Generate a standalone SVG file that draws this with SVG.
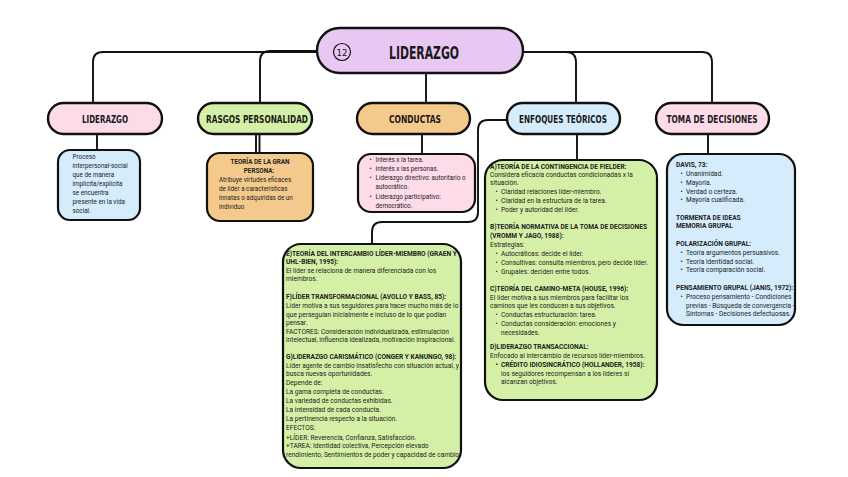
<svg xmlns="http://www.w3.org/2000/svg" width="848" height="477" viewBox="0 0 848 477">
<defs>
<style>
.pill{stroke:#111;stroke-width:2.4}
.box{stroke:#111;stroke-width:2.2}
.con{fill:none;stroke:#111;stroke-width:1.9}
.lbl{font-family:"DejaVu Sans Condensed","DejaVu Sans",sans-serif;font-weight:700;font-size:10.5px;fill:#1a1a1a;text-anchor:middle}
.t{font-family:Roboto,"Liberation Sans",sans-serif;font-size:6.6px;fill:#222}
.b{font-weight:700}
.s{font-size:6.3px}
.c{text-anchor:middle}
.lav{fill:#e9c7f3}.pink{fill:#fddbe8}.green{fill:#d4f0a6}.orange{fill:#f4c98c}.blue{fill:#d4ecfb}
</style>
<clipPath id="clipEG"><rect x="283" y="244" width="178" height="224" rx="18"/></clipPath>
</defs>
<rect width="848" height="477" fill="#ffffff"/>

<g id="connectors">
<path class="con" d="M317,52 H103 Q93,52 93,62 V103"/>
<path class="con" d="M317,51 H270 Q260,51 260,61 V103"/>
<path class="con" d="M426,73 V103"/>
<path class="con" d="M523,52 H566 Q576,52 576,62 V103"/>
<path class="con" d="M523,52 H702 Q712,52 712,62 V103"/>
<path class="con" d="M97,134 V150"/>
<path class="con" d="M256,134 V153 M259.5,134 V153"/>
<path class="con" d="M422,134 V154"/>
<path class="con" d="M577,134 V160"/>
<path class="con" d="M708,134 V154"/>
<path class="con" d="M507,120 H488 Q478,120 478,130 V212 Q478,222 468,222 H382 Q372,222 372,232 V244"/>
</g>

<g id="title">
<rect class="pill lav" x="317" y="28" width="206" height="45" rx="22.5"/>
<circle cx="342" cy="52" r="8.5" fill="none" stroke="#111" stroke-width="1.2"/>
<text x="342" y="55.5" font-family="DejaVu Sans Condensed,DejaVu Sans,sans-serif" font-size="9.5" text-anchor="middle" fill="#111">12</text>
<text x="424" y="58.5" font-family="DejaVu Sans Condensed,DejaVu Sans,sans-serif" font-weight="700" font-size="18" text-anchor="middle" fill="#1a1a1a" textLength="70" lengthAdjust="spacingAndGlyphs">LIDERAZGO</text>
</g>

<g id="n-liderazgo">
<rect class="pill pink" x="48" y="103" width="114" height="31" rx="15.5"/>
<text class="lbl" x="105" y="123" textLength="46" lengthAdjust="spacingAndGlyphs">LIDERAZGO</text>
</g>
<g id="n-rasgos">
<rect class="pill green" x="198" y="103" width="114" height="31" rx="15.5"/>
<text class="lbl" x="257" y="123" textLength="102" lengthAdjust="spacingAndGlyphs">RASGOS PERSONALIDAD</text>
</g>
<g id="n-conductas">
<rect class="pill orange" x="357" y="103" width="113" height="31" rx="15.5"/>
<text class="lbl" x="415" y="123" textLength="52" lengthAdjust="spacingAndGlyphs">CONDUCTAS</text>
</g>
<g id="n-enfoques">
<rect class="pill blue" x="507" y="103" width="113" height="31" rx="15.5"/>
<text class="lbl" x="563" y="123" textLength="88" lengthAdjust="spacingAndGlyphs">ENFOQUES TEÓRICOS</text>
</g>
<g id="n-toma">
<rect class="pill pink" x="656" y="103" width="113" height="31" rx="15.5"/>
<text class="lbl" x="712" y="123" textLength="91" lengthAdjust="spacingAndGlyphs">TOMA DE DECISIONES</text>
</g>

<g id="d-liderazgo">
<rect class="box blue" x="58" y="150" width="82" height="70" rx="12"/>
<text class="t s" x="72.5" y="159">Proceso</text>
<text class="t s" x="72.5" y="168">interpersonal-social</text>
<text class="t s" x="72.5" y="177">que de manera</text>
<text class="t s" x="72.5" y="186">implícita/explícita</text>
<text class="t s" x="72.5" y="194.5">se encuentra</text>
<text class="t s" x="72.5" y="203.5">presente en la vida</text>
<text class="t s" x="72.5" y="212.5">social.</text>
</g>

<g id="d-rasgos">
<rect class="box orange" x="207" y="153" width="106" height="68" rx="13"/>
<text class="t s b c" x="260" y="164">TEORÍA DE LA GRAN</text>
<text class="t s b c" x="259" y="173">PERSONA:</text>
<text class="t s" x="219" y="182">Atribuye virtudes eficaces</text>
<text class="t s" x="219" y="191">de líder a características</text>
<text class="t s" x="219" y="200">innatas o adquiridas de un</text>
<text class="t s" x="219" y="209">individuo</text>
</g>

<g id="d-conductas">
<rect class="box pink" x="358" y="154" width="117" height="58" rx="13"/>
<text class="t s" x="369.5" y="162">•</text><text class="t s" x="375.5" y="162">Interés x la tarea.</text>
<text class="t s" x="369.5" y="170.5">•</text><text class="t s" x="375.5" y="170.5">Interés x las personas.</text>
<text class="t s" x="369.5" y="180">•</text><text class="t s" x="375.5" y="180">Liderazgo directivo: autoritario o</text>
<text class="t s" x="375.5" y="189">autocrático.</text>
<text class="t s" x="369.5" y="198.5">•</text><text class="t s" x="375.5" y="198.5">Liderazgo participativo:</text>
<text class="t s" x="375.5" y="207.5">democrático.</text>
</g>

<g id="d-enfoques">
<rect class="box green" x="485" y="160" width="172" height="240" rx="18"/>
<text class="t b" x="490" y="168.5">A)TEORÍA DE LA CONTINGENCIA DE FIELDER:</text>
<text class="t" x="490" y="176.5">Considera eficacia conductas condicionadas x la</text>
<text class="t" x="490" y="185">situación.</text>
<text class="t" x="495.5" y="194">•</text><text class="t" x="501" y="194">Claridad relaciones líder-miembro.</text>
<text class="t" x="495.5" y="203">•</text><text class="t" x="501" y="203">Claridad en la estructura de la tarea.</text>
<text class="t" x="495.5" y="211.5">•</text><text class="t" x="501" y="211.5">Poder y autoridad del líder.</text>
<text class="t b" x="490" y="229">B)TEORÍA NORMATIVA DE LA TOMA DE DECISIONES</text>
<text class="t b" x="490" y="237.5">(VROMM Y JAGO, 1988):</text>
<text class="t" x="490" y="246.5">Estrategias:</text>
<text class="t" x="495.5" y="255.5">•</text><text class="t" x="501" y="255.5">Autocráticas: decide el líder.</text>
<text class="t" x="495.5" y="265">•</text><text class="t" x="501" y="265">Consultivas: consulta miembros, pero decide líder.</text>
<text class="t" x="495.5" y="274">•</text><text class="t" x="501" y="274">Grupales: deciden entre todos.</text>
<text class="t b" x="490" y="291">C)TEORÍA DEL CAMINO-META (HOUSE, 1996):</text>
<text class="t" x="490" y="299.5">El líder motiva a sus miembros para facilitar los</text>
<text class="t" x="490" y="308">caminos que les conducen a sus objetivos.</text>
<text class="t" x="495.5" y="316.5">•</text><text class="t" x="501" y="316.5">Conductas estructuración: tarea.</text>
<text class="t" x="495.5" y="325.5">•</text><text class="t" x="501" y="325.5">Conductas consideración: emociones y</text>
<text class="t" x="501" y="334.5">necesidades.</text>
<text class="t b" x="490" y="349">D)LIDERAZGO TRANSACCIONAL:</text>
<text class="t" x="490" y="358">Enfocado al intercambio de recursos líder-miembros.</text>
<text class="t b" x="495.5" y="366.5">•</text><text class="t b" x="501" y="366.5">CRÉDITO IDIOSINCRÁTICO (HOLLANDER, 1958):</text>
<text class="t" x="501" y="375.5">los seguidores recompensan a los líderes si</text>
<text class="t" x="501" y="384">alcanzan objetivos.</text>
</g>

<g id="d-toma">
<rect class="box blue" x="667" y="154" width="128" height="171" rx="16"/>
<text class="t b" x="676" y="167">DAVIS, 73:</text>
<text class="t" x="680.5" y="176">•</text><text class="t" x="686" y="176">Unanimidad.</text>
<text class="t" x="680.5" y="185">•</text><text class="t" x="686" y="185">Mayoría.</text>
<text class="t" x="680.5" y="193.5">•</text><text class="t" x="686" y="193.5">Verdad o certeza.</text>
<text class="t" x="680.5" y="202">•</text><text class="t" x="686" y="202">Mayoría cualificada.</text>
<text class="t b" x="676" y="219.5">TORMENTA DE IDEAS</text>
<text class="t b" x="676" y="228">MEMORIA GRUPAL</text>
<text class="t b" x="676" y="246">POLARIZACIÓN GRUPAL:</text>
<text class="t" x="680.5" y="255">•</text><text class="t" x="686" y="255">Teoría argumentos persuasivos.</text>
<text class="t" x="680.5" y="263.5">•</text><text class="t" x="686" y="263.5">Teoría identidad social.</text>
<text class="t" x="680.5" y="272">•</text><text class="t" x="686" y="272">Teoría comparación social.</text>
<text class="t b" x="676" y="289.5">PENSAMIENTO GRUPAL (JANIS, 1972):</text>
<text class="t" x="680.5" y="299">•</text><text class="t" x="686" y="299">Proceso pensamiento - Condiciones</text>
<text class="t" x="686" y="307.5">previas - Búsqueda de convergencia -</text>
<text class="t" x="686" y="316">Síntomas - Decisiones defectuosas.</text>
</g>

<g id="d-teorias-efg">
<rect class="box green" x="283" y="244" width="178" height="224" rx="18"/>
<g clip-path="url(#clipEG)">
<text class="t b" x="286" y="256">E)TEORÍA DEL INTERCAMBIO LÍDER-MIEMBRO (GRAEN Y</text>
<text class="t b" x="286" y="264">UHL-BIEN, 1995):</text>
<text class="t" x="286" y="272.5">El líder se relaciona de manera diferenciada con los</text>
<text class="t" x="286" y="281">miembros.</text>
<text class="t b" x="286" y="298.5">F)LÍDER TRANSFORMACIONAL (AVOLLO Y BASS, 85):</text>
<text class="t" x="286" y="307.5">Líder motiva a sus seguidores para hacer mucho más de lo</text>
<text class="t" x="286" y="316.5">que perseguían inicialmente e incluso de lo que podían</text>
<text class="t" x="286" y="325">pensar.</text>
<text class="t" x="286" y="333.5">FACTORES: Consideración individualizada, estimulación</text>
<text class="t" x="286" y="342">intelectual, influencia idealizada, motivación inspiracional.</text>
<text class="t b" x="286" y="358.5">G)LIDERAZGO CARISMÁTICO (CONGER Y KANUNGO, 98):</text>
<text class="t" x="286" y="367.5">Líder agente de cambio insatisfecho con situación actual, y</text>
<text class="t" x="286" y="376">busca nuevas oportunidades.</text>
<text class="t" x="286" y="384.5">Depende de:</text>
<text class="t" x="286" y="393.5">La gama completa de conductas.</text>
<text class="t" x="286" y="402.5">La variedad de conductas exhibidas.</text>
<text class="t" x="286" y="411.5">La intensidad de cada conducta.</text>
<text class="t" x="286" y="420.5">La pertinencia respecto a la situación.</text>
<text class="t" x="286" y="429.5">EFECTOS:</text>
<text class="t" x="286" y="439.5">+LÍDER: Reverencia, Confianza, Satisfacción.</text>
<text class="t" x="286" y="448">+TAREA: Identidad colectiva, Percepción elevado</text>
<text class="t" x="286" y="457">rendimiento, Sentimientos de poder y capacidad de cambio</text>
</g>
</g>
</svg>
